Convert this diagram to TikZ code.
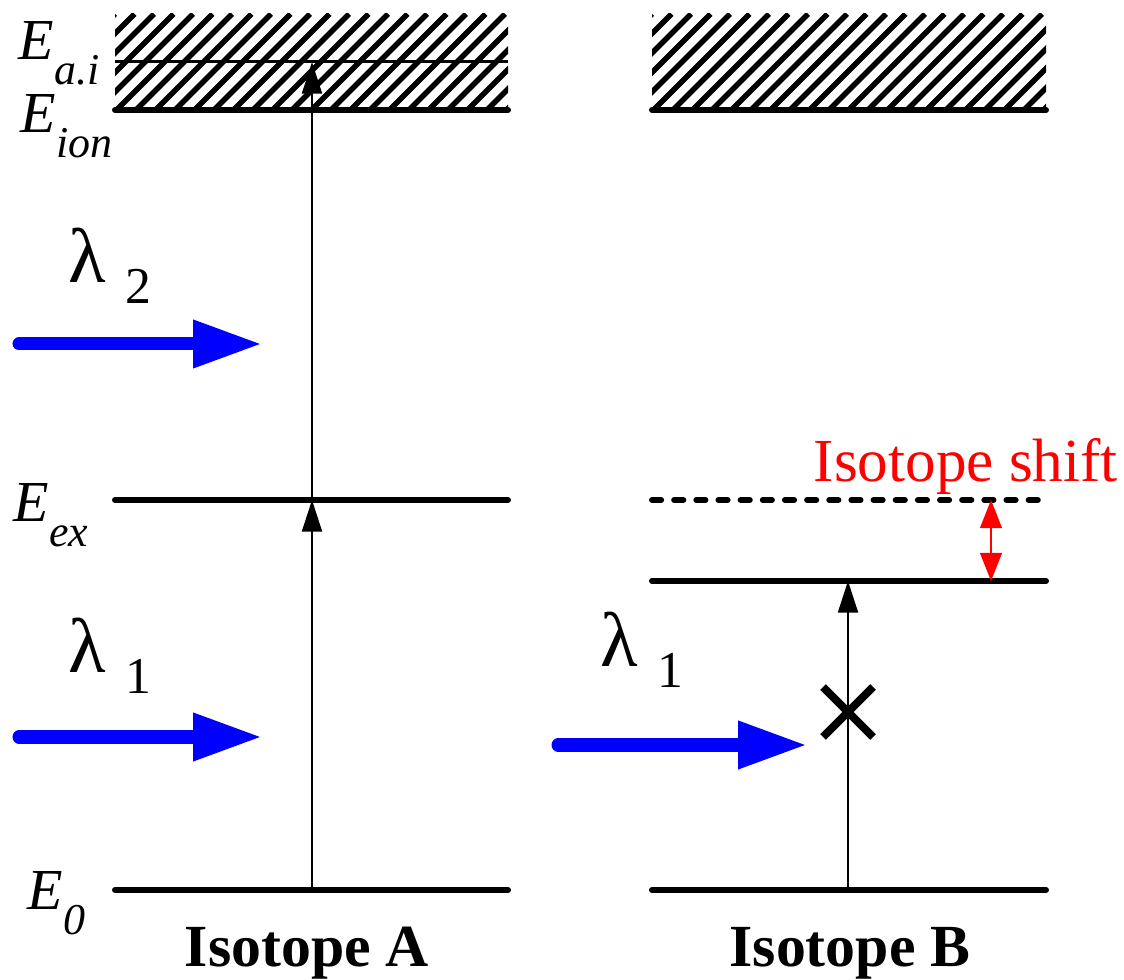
\documentclass[tikz,border=0pt]{standalone}
\usepackage{fontspec}
\setmainfont{Liberation Serif}
\usetikzlibrary{arrows.meta}

\newcommand*{\Axl}{115}
\newcommand*{\Axr}{508}
\newcommand*{\Bxl}{652}
\newcommand*{\Bxr}{1046}
\newcommand*{\yai}{62}
\newcommand*{\yion}{110}
\newcommand*{\yex}{500}
\newcommand*{\yexB}{581}
\newcommand*{\yzero}{890}

\newcommand*{\elab}[1]{\fontsize{16.5}{18}\selectfont\itshape E\raisebox{-7pt}{\fontsize{12.5}{14}\selectfont #1}}
\newcommand*{\lamlab}[1]{\fontsize{22}{24}\selectfont λ\hspace{5.5pt}\raisebox{-5.7pt}{\fontsize{14.7}{16}\selectfont #1}}

\begin{document}
\begin{tikzpicture}
[
	level/.style={line width=1.7pt,line cap=round},
	thinlevel/.style={line width=0.85pt},
	excite/.style={line width=0.55pt,-{Triangle[length=9pt,width=5.7pt]}},
	laser/.style={blue,line width=3.7pt,line cap=round,-{Triangle[length=19.6pt,width=12.8pt]}},
	shiftarrow/.style={red,line width=0.55pt,{Triangle[length=8pt,width=6.2pt]}-{Triangle[length=8pt,width=6.2pt]}},
	hatchline/.style={line width=1.6pt},
	x=0.01cm,y=-0.01cm
]
	\useasboundingbox (0,0) rectangle (1124,980);

	% continuum above ionisation
	\begin{scope}
		\clip (\Axl,14) rectangle (\Axr,\yion);
		\foreach \i in {0,...,26}
			\draw[hatchline] (\Axl-96+\i*19.5,\yion) -- ++(96,-96);
	\end{scope}
	\begin{scope}
		\clip (\Bxl,14) rectangle (\Bxr,\yion);
		\foreach \i in {0,...,26}
			\draw[hatchline] (\Bxl-96+\i*19.5,\yion) -- ++(96,-96);
	\end{scope}

	% levels, isotope A
	\draw[thinlevel] (\Axl,\yai) -- (\Axr,\yai);
	\draw[level] (\Axl,\yion) -- (\Axr,\yion);
	\draw[level] (\Axl,\yex) -- (\Axr,\yex);
	\draw[level] (\Axl,\yzero) -- (\Axr,\yzero);

	% levels, isotope B
	\draw[level] (\Bxl,\yion) -- (\Bxr,\yion);
	\draw[level,dash pattern=on 2.6pt off 3.7pt] (\Bxl,\yex) -- (\Bxr,\yex);
	\draw[level] (\Bxl,\yexB) -- (\Bxr,\yexB);
	\draw[level] (\Bxl,\yzero) -- (\Bxr,\yzero);

	% energy labels
	\node[anchor=base west,inner sep=0pt] (lai) at (18,60) {\elab{a.i}};
	\node[anchor=base west,inner sep=0pt] (lion) at (20,133) {\elab{ion}};
	\node[anchor=base west,inner sep=0pt] (lex) at (13,522) {\elab{ex}};
	\node[anchor=base west,inner sep=0pt] (lzero) at (27,910) {\elab{0}};

	% transitions
	\coordinate (A0) at (312,\yzero);
	\coordinate (Aex) at (312,\yex);
	\coordinate (Aai) at (312,\yai);
	\coordinate (B0) at (848,\yzero);
	\coordinate (Bex) at (848,\yexB);
	\draw[excite] (A0) -- (Aex);
	\draw[excite] (Aex) -- (Aai);
	\draw[excite] (B0) -- (Bex);

	% blocked
	\node (block) at (848,712) {};
	\draw[line width=2.3pt] (block.center) ++(-25,-25) -- ++(50,50);
	\draw[line width=2.3pt] (block.center) ++(-25,25) -- ++(50,-50);

	% shift
	\coordinate (Sup) at (991,\yex);
	\coordinate (Sdn) at (991,\yexB);
	\draw[shiftarrow] (Sup) -- (Sdn);
	\node[anchor=base west,inner sep=0pt,red,font=\fontsize{17.4}{19}\selectfont] (lshift) at (813,482) {Isotope shift};

	% lasers
	\coordinate (L2a) at (19,344);
	\coordinate (L2b) at (262,344);
	\coordinate (L1a) at (19,737);
	\coordinate (L1b) at (262,737);
	\coordinate (L3a) at (558,745);
	\coordinate (L3b) at (807,745);
	\draw[laser] (L2a) -- (L2b);
	\draw[laser] (L1a) -- (L1b);
	\draw[laser] (L3a) -- (L3b);
	\node[anchor=base west,inner sep=0pt] (llam2) at (68,283) {\lamlab{2}};
	\node[anchor=base west,inner sep=0pt] (llam1) at (68,673) {\lamlab{1}};
	\node[anchor=base west,inner sep=0pt] (llam3) at (600,667) {\lamlab{1}};

	% isotope names
	\node[anchor=base,inner sep=0pt,font=\fontsize{17}{19}\selectfont\bfseries] (isoA) at (307,967) {Isotope A};
	\node[anchor=base,inner sep=0pt,font=\fontsize{17}{19}\selectfont\bfseries] (isoB) at (850,967) {Isotope B};

\end{tikzpicture}
\end{document}
